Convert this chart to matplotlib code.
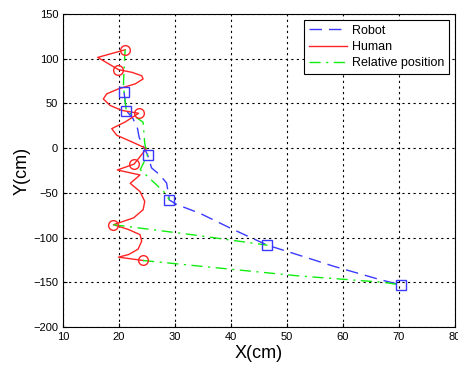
import numpy as np
import matplotlib.pyplot as plt

plt.rcParams['font.family'] = ['Liberation Sans', 'DejaVu Sans']

# human trajectory (red)
human_x = [21.1, 16.2, 19.9, 22.3, 24.05, 24.3, 22.9, 19.9, 17.8, 17.2, 18.4, 20.5, 23.5,
           21.1, 18.7, 19.6, 22.3, 24.9, 22.7, 19.7, 23.75, 22.0, 23.75, 24.6, 24.3,
           22.6, 19.9, 19.0, 21.7, 23.75, 24.05, 23.4, 21.7, 19.9, 24.3]
human_y = [110, 101.5, 87.8, 84.8, 81, 77.4, 71.9, 66.3, 60.7, 55, 47.8, 42.2, 39,
           29.3, 21.8, 14.4, 7, -0.4, -17.8, -24.4, -30, -39.3, -48.5, -59.6, -68.9,
           -78, -83.7, -85.6, -91, -96.7, -104, -113, -119, -121.9, -125.6]
human_mx = [21.1, 19.9, 23.5, 22.7, 19.0, 24.3]
human_my = [110, 87.8, 39, -17.8, -85.6, -125.6]

# robot trajectory (blue)
robot_x = [20.9, 21.1, 21.3, 22.5, 23.3, 23.6, 24.5, 25.1, 25.8, 27.3, 28.5, 29.0,
           30.3, 34.5, 40.4, 46.5, 50.8, 58.3, 66.6, 70.4]
robot_y = [62.6, 52, 42, 33, 22, 12, 0, -7.4, -22, -30, -39, -58,
           -63, -73, -91, -108.5, -117, -132, -147, -153]
robot_mx = [20.9, 21.3, 25.1, 29.0, 46.5, 70.4]
robot_my = [62.6, 42, -7.4, -58, -108.5, -153]

# relative position (green), nan = break
rel_x = [21.1, 21.0, 20.8, 20.9, 21.3, 24.3, 24.6, 25.1, 23.8, 26.7, 28.2, 29.0, np.nan,
         19.0, 33.3, 46.5, np.nan,
         24.3, 34.5, 52.3, 67.2, 70.4]
rel_y = [110, 101, 73, 62.6, 42, 29, 5, -7.4, -24, -41, -50, -58, np.nan,
         -85.6, -97, -108.5, np.nan,
         -125.6, -132, -143, -150, -153]

fig = plt.figure(figsize=(4.58, 3.65), dpi=100)
ax = fig.add_axes([0.1376, 0.1041, 0.8558, 0.8575])

blue = '#3a3aff'
red = '#ff2424'
green = '#10ee10'

ax.plot(robot_x, robot_y, color=blue, lw=1, dashes=(9, 5), label='Robot')
ax.plot(human_x, human_y, color=red, lw=1, label='Human')
ax.plot(rel_x, rel_y, color=green, lw=1, dashes=(8, 4, 1.5, 4), label='Relative position')
ax.plot(robot_mx, robot_my, ls='none', marker='s', ms=7, mfc='none', mec=blue, mew=1)
ax.plot(human_mx, human_my, ls='none', marker='o', ms=7, mfc='none', mec=red, mew=1)

ax.set_xlim(10, 80)
ax.set_ylim(-200, 150)
ax.set_xticks(range(10, 81, 10))
ax.set_yticks(range(-200, 151, 50))
ax.grid(True, color='black', ls=(0, (2, 3)), lw=0.8)
ax.tick_params(labelsize=8, direction='in', length=3)
ax.set_xlabel('X(cm)', fontsize=13, labelpad=2)
ax.set_ylabel('Y(cm)', fontsize=13, labelpad=2)

leg = ax.legend(loc='upper right', fontsize=9, fancybox=False, framealpha=1,
                edgecolor='black', borderaxespad=0.45, handlelength=3.0,
                handletextpad=0.4, labelspacing=0.35, borderpad=0.4)
leg.get_frame().set_linewidth(0.8)

fig.savefig('out.png', dpi=100)
